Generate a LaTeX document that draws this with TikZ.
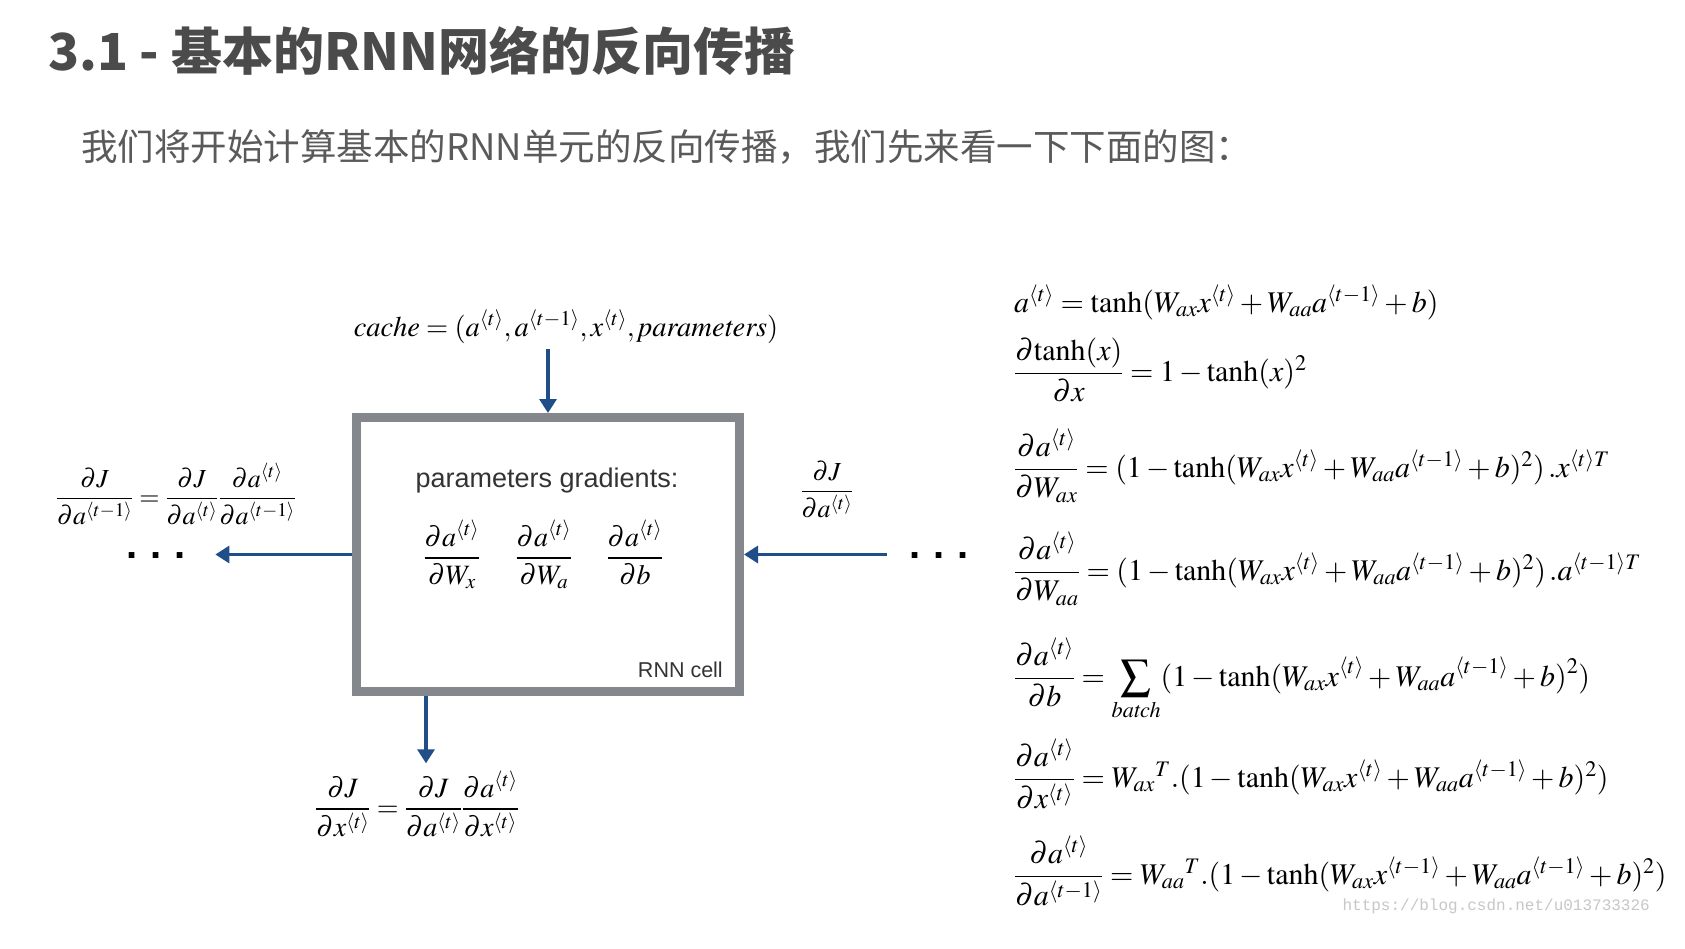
\documentclass[tikz,border=0pt]{standalone}
\usepackage{mathptmx}
\usepackage{amsmath}
\usepackage[no-math]{fontspec}
\setsansfont{Liberation Sans}
\setmonofont{Liberation Mono}
\newfontfamily\cjk{Noto Sans CJK SC}
\usetikzlibrary{arrows.meta,positioning}

\definecolor{flowblue}{HTML}{1F4E89}
\definecolor{cellgray}{HTML}{84878C}
\definecolor{headgray}{HTML}{4B4B4B}
\definecolor{subgray}{HTML}{5A5A5A}

\newcommand{\tin}[1]{^{\langle #1\rangle}}

\begin{document}
\begin{tikzpicture}[x=1pt,y=-1pt,
  flow/.style={draw=flowblue, line width=3.2pt, -{Triangle[width=17pt,length=14pt]}},
  cellbox/.style={draw=cellgray, line width=8.6pt, minimum width=383.4pt,
                  minimum height=274.4pt, inner sep=0pt},
  head/.style={anchor=base west, inner sep=0pt, text=headgray,
               font=\cjk\bfseries\fontsize{51}{60}\selectfont},
  subhead/.style={anchor=base west, inner sep=0pt, text=subgray,
                  font=\cjk\fontsize{36.5}{44}\selectfont},
  eq/.style={anchor=base west, inner sep=0pt, font=\fontsize{30}{36}\selectfont},
  side/.style={anchor=base, inner sep=0pt, font=\fontsize{26}{31}\selectfont},
  grad/.style={anchor=base, inner sep=0pt, font=\fontsize{28}{34}\selectfont},
  label/.style={inner sep=0pt, text=black!80, font=\sffamily\fontsize{27}{32}\selectfont},
  dots/.style={anchor=base, inner sep=0pt, font=\sffamily\bfseries\fontsize{40}{40}\selectfont},
  wmark/.style={anchor=east, inner sep=0pt, text=black!22, font=\ttfamily\fontsize{16}{18}\selectfont},
]
  \fill[white] (0,0) rectangle (1685,948);
  \useasboundingbox (0,0) rectangle (1685,948);

  % heading
  \node[head] (title) at (48,70) {3.1 - 基本的RNN网络的反向传播};
  \node[subhead] (intro) at (81,160) {我们将开始计算基本的RNN单元的反向传播，我们先来看一下下面的图：};

  % the cell
  \node[cellbox] (cell) at (548,554.5) {};
  \node[label, anchor=base] (pg) at (547,487) {parameters gradients:};
  \node[grad] (dWx) at (452,565) {$\dfrac{\partial a\tin{t}}{\partial W_x}$};
  \node[grad] (dWa) at (544,565) {$\dfrac{\partial a\tin{t}}{\partial W_a}$};
  \node[grad] (db)  at (635,565) {$\dfrac{\partial a\tin{t}}{\partial b}$};
  \node[label, anchor=base east, font=\sffamily\fontsize{21.5}{26}\selectfont] (name) at (723,677) {RNN cell};

  % inputs and outputs
  \node[side, font=\fontsize{28.5}{34}\selectfont] (cache) at (566,336)
    {$\mathit{cache}=(a\tin{t},a\tin{t-1},x\tin{t},\mathit{parameters})$};
  \node[side] (dJa) at (827,498) {$\dfrac{\partial J}{\partial a\tin{t}}$};
  \node[side] (dJprev) at (176,505)
    {$\dfrac{\partial J}{\partial a\tin{t-1}}=\dfrac{\partial J}{\partial a\tin{t}}\dfrac{\partial a\tin{t}}{\partial a\tin{t-1}}$};
  \node[side, font=\fontsize{28}{34}\selectfont] (dJx) at (417,816)
    {$\dfrac{\partial J}{\partial x\tin{t}}=\dfrac{\partial J}{\partial a\tin{t}}\dfrac{\partial a\tin{t}}{\partial x\tin{t}}$};
  \node[dots] (ldots) at (156,558) {.\hspace{13pt}.\hspace{13pt}.};
  \node[dots] (rdots) at (939,558) {.\hspace{13pt}.\hspace{13pt}.};

  \draw[flow, shorten <=6pt] (cell.north |- cache.south) -- (cell.north);
  \draw[flow, shorten >=29.5pt] (cell.west) -- (cell.west -| ldots.east);
  \draw[flow, shorten <=22.5pt] (cell.east -| rdots.west) -- (cell.east);
  \draw[flow, shorten >=8pt] ([xshift=-122pt]cell.south) -- ([xshift=-122pt]cell.south |- dJx.north);

  % formulas on the right
  \node[eq] (e1) at (1014,312)
    {$a\tin{t}=\tanh(W_{ax}x\tin{t}+W_{aa}a\tin{t-1}+b)$};
  \node[eq] (e2) at (1014,381)
    {$\dfrac{\partial\mathrm{tanh}(x)}{\partial x}=1-\tanh(x)^2$};
  \node[eq] (e3) at (1014,477)
    {$\dfrac{\partial a\tin{t}}{\partial W_{ax}}=(1-\tanh(W_{ax}x\tin{t}+W_{aa}a\tin{t-1}+b)^2)\,.x^{\langle t\rangle T}$};
  \node[eq] (e4) at (1014,580)
    {$\dfrac{\partial a\tin{t}}{\partial W_{aa}}=(1-\tanh(W_{ax}x\tin{t}+W_{aa}a\tin{t-1}+b)^2)\,.a^{\langle t-1\rangle T}$};
  \node[eq] (e5) at (1014,686)
    {$\dfrac{\partial a\tin{t}}{\partial b}=\displaystyle\sum_{\mathit{batch}}(1-\tanh(W_{ax}x\tin{t}+W_{aa}a\tin{t-1}+b)^2)$};
  \node[eq] (e6) at (1014,787)
    {$\dfrac{\partial a\tin{t}}{\partial x\tin{t}}=W_{ax}{}^{T}.(1-\tanh(W_{ax}x\tin{t}+W_{aa}a\tin{t-1}+b)^2)$};
  \node[eq] (e7) at (1014,884)
    {$\dfrac{\partial a\tin{t}}{\partial a\tin{t-1}}=W_{aa}{}^{T}.(1-\tanh(W_{ax}x\tin{t-1}+W_{aa}a\tin{t-1}+b)^2)$};

  \node[wmark] (url) at (1650,906) {https://blog.csdn.net/u013733326};
\end{tikzpicture}
\end{document}
